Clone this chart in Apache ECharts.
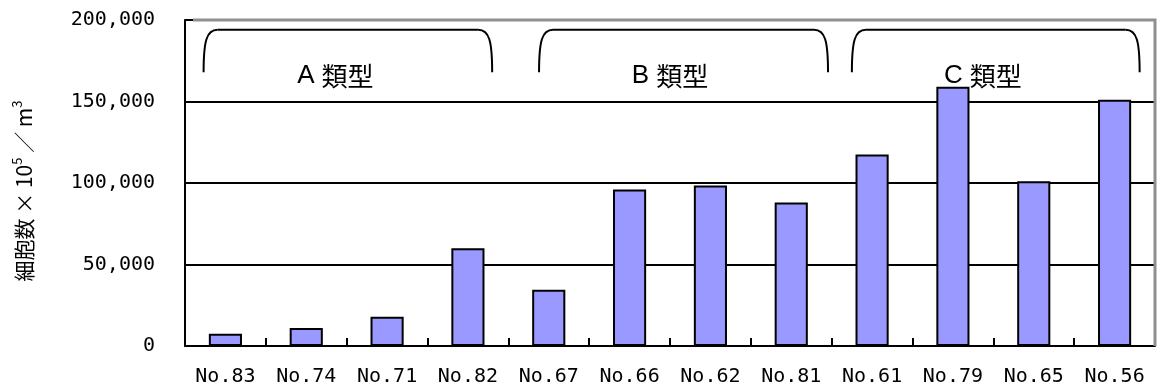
<!DOCTYPE html>
<html>
<head>
<meta charset="utf-8">
<script src="https://cdn.jsdelivr.net/npm/echarts@6/dist/echarts.min.js"></script>
<style>
  html, body { margin: 0; padding: 0; background: #fff; }
  #chart { width: 1158px; height: 390px; }
</style>
</head>
<body>
<div id="chart"></div>
<script>
// Sample stations and their cell counts (×10^5 / m^3)
const categories = ['No.83', 'No.74', 'No.71', 'No.82', 'No.67', 'No.66', 'No.62', 'No.81', 'No.61', 'No.79', 'No.65', 'No.56'];
const cellCounts = [7500, 11000, 18000, 60000, 34500, 96000, 98500, 88000, 117500, 159000, 101000, 151000];
const yTicks = [0, 50000, 100000, 150000, 200000];

// Station groups shown with brackets above the bars
const groupLetters = ['A', 'B', 'C'];
const groupSuffix = '類型';
const groupFirst = [0, 4, 8];
const groupLast = [3, 7, 11];

// Bracket drawing layout (in category-band units / axis values)
const bracketLayout = [
  { inL: 0.23, inR: 0.20, labelShift: -0.14 },
  { inL: 0.38, inR: 0.045, labelShift: 0.0 },
  { inL: 0.25, inR: 0.19, labelShift: -0.13 }
];
const BRACKET_TOP = 194000;
const BRACKET_END = 168000;
const LABEL_AT = 165500;

const chart = echarts.init(document.getElementById('chart'), null, { renderer: 'canvas' });

const monoFont = "'DejaVu Sans Mono', monospace";
const cjkFont = "'Noto Sans CJK JP', sans-serif";

chart.setOption({
  animation: false,
  backgroundColor: '#fff',
  grid: { left: 185, right: 3, top: 20, bottom: 44, containLabel: false },
  xAxis: {
    type: 'category',
    data: categories,
    boundaryGap: true,
    axisLine: { show: true, lineStyle: { color: '#000', width: 2 } },
    axisTick: { show: true, inside: true, length: 8, lineStyle: { color: '#000', width: 2 } },
    axisLabel: { interval: 0, margin: 21, color: '#000', fontFamily: monoFont, fontSize: 20 },
    splitLine: { show: false }
  },
  yAxis: {
    type: 'value',
    min: yTicks[0],
    max: yTicks[yTicks.length - 1],
    interval: yTicks[1] - yTicks[0],
    name: '{a|細胞数 × 10}{s|5}{a| ／ m}{s|3}',
    nameLocation: 'middle',
    nameRotate: 90,
    nameGap: 148,
    nameTextStyle: {
      padding: [0, 16, 0, 0],
      rich: {
        a: { fontFamily: cjkFont, fontSize: 21, color: '#000', lineHeight: 26 },
        s: { fontFamily: cjkFont, fontSize: 13, color: '#000', verticalAlign: 'top' }
      }
    },
    axisLine: { show: true, lineStyle: { color: '#000', width: 2 } },
    axisTick: { show: true, inside: true, length: 8, lineStyle: { color: '#000', width: 2 } },
    axisLabel: {
      margin: 30, color: '#000', fontFamily: monoFont, fontSize: 20,
      formatter: v => v.toLocaleString('en-US')
    },
    splitLine: { show: true, showMaxLine: false, lineStyle: { color: '#000', width: 2 } }
  },
  series: [{
    type: 'bar',
    data: cellCounts,
    barWidth: '41%',
    itemStyle: { color: '#9999FF', borderColor: '#000', borderWidth: 2 }
  }]
});

// Brackets, group labels and the grey top/right frame, placed through the axes
function px(pos) {
  const x0 = chart.convertToPixel({ xAxisIndex: 0 }, 0);
  const x1 = chart.convertToPixel({ xAxisIndex: 0 }, 1);
  return x0 + pos * (x1 - x0);
}
function py(v) { return chart.convertToPixel({ yAxisIndex: 0 }, v); }

const graphics = [];
const plotLeft = px(-0.5), plotRight = px(categories.length - 0.5);
const plotTop = py(yTicks[yTicks.length - 1]), plotBottom = py(yTicks[0]);

graphics.push({
  type: 'polyline', z: 5, silent: true,
  shape: { points: [[plotLeft + 8, plotTop], [plotRight, plotTop], [plotRight, plotBottom]] },
  style: { stroke: '#8f8f8f', lineWidth: 3, fill: null }
});

groupLetters.forEach((letter, i) => {
  const L = bracketLayout[i];
  const xl = px(groupFirst[i] - 0.5 + L.inL);
  const xr = px(groupLast[i] + 0.5 - L.inR);
  const yt = py(BRACKET_TOP);
  const yb = py(BRACKET_END);
  const style = { stroke: '#000', lineWidth: 2, fill: null };
  graphics.push({
    type: 'bezierCurve', z: 5, silent: true,
    shape: { x1: xl, y1: yb, cpx1: xl, cpy1: yt + 11, cpx2: xl + 3, cpy2: yt, x2: xl + 14, y2: yt },
    style
  });
  graphics.push({
    type: 'line', z: 5, silent: true,
    shape: { x1: xl + 14, y1: yt, x2: xr - 14, y2: yt },
    style
  });
  graphics.push({
    type: 'bezierCurve', z: 5, silent: true,
    shape: { x1: xr - 14, y1: yt, cpx1: xr - 3, cpy1: yt, cpx2: xr, cpy2: yt + 11, x2: xr, y2: yb },
    style
  });
  graphics.push({
    type: 'text', z: 6, silent: true,
    x: px((groupFirst[i] + groupLast[i]) / 2 + L.labelShift),
    y: py(LABEL_AT),
    style: {
      text: '{l|' + letter + '}{k|' + groupSuffix + '}',
      align: 'center', verticalAlign: 'middle',
      rich: {
        l: { fontFamily: "'Liberation Sans', sans-serif", fontSize: 26, fill: '#000', padding: [0, 7, 0, 0] },
        k: { fontFamily: cjkFont, fontSize: 26, fill: '#000' }
      }
    }
  });
});

chart.setOption({ graphic: graphics });
</script>
</body>
</html>
